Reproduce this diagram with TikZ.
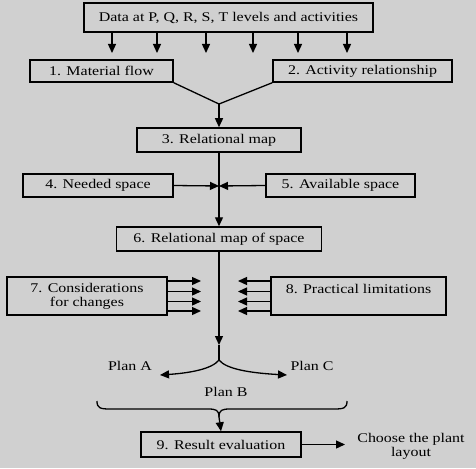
\documentclass[tikz,border=0pt]{standalone}
\usepackage{fontspec}
\setmainfont[FakeStretch=1.2]{Liberation Serif}
\usetikzlibrary{arrows.meta}
\definecolor{bg}{RGB}{208,208,208}
\begin{document}
\begin{tikzpicture}[x=1pt,y=-1pt,
  every node/.style={font=\fontsize{13.3}{14}\selectfont, inner sep=0pt},
  box/.style={draw, line width=1.5pt, align=center},
  conn/.style={line width=1.3pt},
  arr/.style={conn, -{Triangle[length=9pt,width=8pt]}},
  lbl/.style={align=center}]
\fill[bg] (0,0) rectangle (476,468);
\useasboundingbox (0,0) rectangle (476,468);
% boxes
\node[box, minimum width=289pt, minimum height=29pt] (top) at (228.5,17.5) {Data at P, Q, R, S, T levels and activities};
\node[box, minimum width=143pt, minimum height=22pt] (b1) at (101.5,71) {1. Material flow};
\node[box, minimum width=179pt, minimum height=22pt] (b2) at (362.5,71) {2. Activity relationship};
\node[box, minimum width=164pt, minimum height=24pt] (b3) at (219,140) {3. Relational map};
\node[box, minimum width=150pt, minimum height=23pt] (b4) at (98,185.5) {4. Needed space};
\node[box, minimum width=149pt, minimum height=23pt] (b5) at (340.5,185.5) {5. Available space};
\node[box, minimum width=205pt, minimum height=24pt] (b6) at (219,239) {6. Relational map of space};
\node[box, minimum width=160pt, minimum height=38pt] (b7) at (87,296) {7. Considerations\\for changes};
\node[box, minimum width=175pt, minimum height=38pt] (b8) at (358.5,296) {};
\node[lbl] (t8) at (358.5,289) {8. Practical limitations};
\node[box, minimum width=160pt, minimum height=25pt] (b9) at (221,444.5) {9. Result evaluation};
% labels
\node[lbl] (pa) at (130,366) {Plan A};
\node[lbl] (pc) at (312,366) {Plan C};
\node[lbl] (pb) at (226,392) {Plan B};
\node[lbl] (ch) at (411,446.5) {Choose the plant\\layout};
% top arrows
\foreach \x [count=\i] in {112,157,206,253,298,347}{
  \coordinate (a\i) at (\x,53);
  \draw[arr] (top.south -| a\i) -- (a\i);
}
% merge
\coordinate (m) at (219,104);
\draw[conn] (b1.south east) -- (m);
\draw[conn] (b2.south west) -- (m);
\draw[arr] (m) -- (b3.north);
% central line 3 -> 6
\draw[arr] (b3.south) -- (b6.north);
\coordinate (j) at (219,186);
\draw[arr] (b4.east) -- (j);
\draw[arr] (b5.west) -- (j);
% side arrows 7 and 8
\foreach \y [count=\i] in {281,291.5,301.5,311}{
  \coordinate (l\i) at (201,\y);
  \coordinate (r\i) at (238,\y);
  \draw[arr] (b7.east |- l\i) -- (l\i);
  \draw[arr] (b8.west |- r\i) -- (r\i);
}
% down to split
\coordinate (s) at (219,345);
\coordinate (sp) at (219,360);
\coordinate (la) at (160,375);
\coordinate (ra) at (287,375);
\draw[arr] (b6.south) -- (s);
\draw[conn] (s) -- (sp);
\draw[arr] (sp) .. controls (212,369) and (190,373) .. (la);
\draw[arr] (sp) .. controls (226,369) and (250,373) .. (ra);
% brace
\coordinate (bl) at (97,401);
\coordinate (br) at (347,401);
\coordinate (bc) at (219,417);
\draw[conn] (bl) .. controls (97,408) and (100,409) .. (110,409) -- (208,409)
  .. controls (216,409) and (219,410) .. (bc);
\draw[conn] (br) .. controls (347,408) and (344,409) .. (334,409) -- (230,409)
  .. controls (222,409) and (219,410) .. (bc);
\draw[arr] (bc) -- (b9.north);
% result arrow
\coordinate (ce) at (345,444.5);
\draw[arr] (b9.east) -- (ce);
\end{tikzpicture}
\end{document}
